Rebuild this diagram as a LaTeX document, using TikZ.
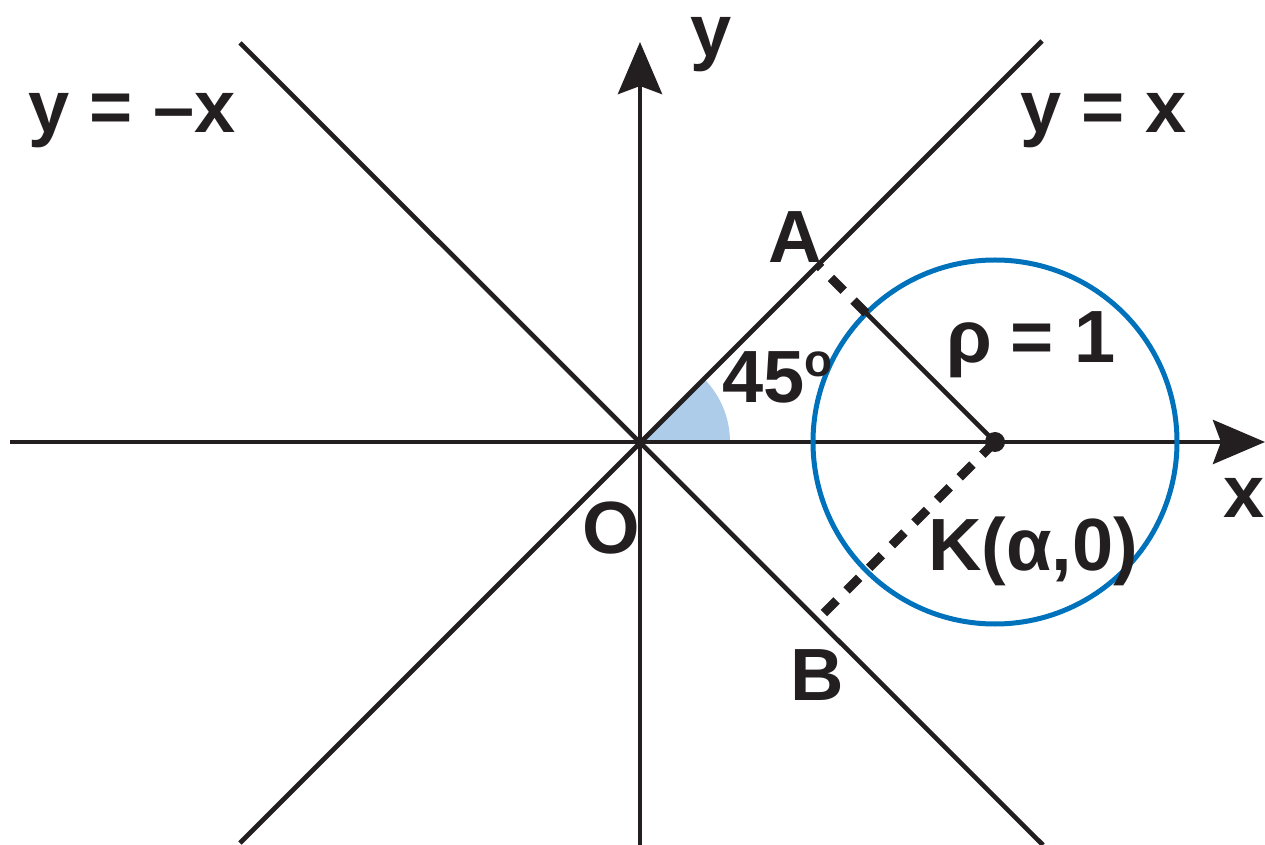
\documentclass[tikz,border=0pt]{standalone}
\usepackage{fontspec}
\setmainfont{Liberation Sans}
\usetikzlibrary{arrows.meta}
\definecolor{ink}{RGB}{35,31,32}
\definecolor{circblue}{RGB}{0,114,188}
\definecolor{wedgeblue}{RGB}{172,204,234}
\tikzset{
  axisline/.style={ink, line width=4.8pt, -{Stealth[length=52pt,width=44pt,inset=8pt]}},
  plainline/.style={ink, line width=4.6pt},
  dashline/.style={ink, line width=9pt, dash pattern=on 18pt off 14pt},
  lbl/.style={inner sep=0pt, anchor=base west, text=ink, font=\fontsize{74}{80}\selectfont\bfseries},
}
\begin{document}
\begin{tikzpicture}[x=1pt,y=1pt]
\useasboundingbox (-640,-403) rectangle (625,442);
\coordinate (O) at (0,0);
\coordinate (K) at (355,0);
\coordinate (A) at (177.5,177.5);
\coordinate (B) at (177.5,-177.5);
\coordinate (P) at (226.3,128.7);
\coordinate (xs) at (-630,0);
\coordinate (xe) at (625,0);
\coordinate (ys) at (0,-403);
\coordinate (ye) at (0,400);
\coordinate (d1s) at (-400,-401);
\coordinate (d1e) at (402,401);
\coordinate (d2s) at (-400,399);
\coordinate (d2e) at (403,-403);
% angle wedge
\fill[wedgeblue] (O) -- (90,0) arc[start angle=0,end angle=45,radius=90] -- cycle;
% lines
\draw[plainline] (d1s) -- (d1e);
\draw[plainline] (d2s) -- (d2e);
\draw[axisline] (xs) -- (xe);
\draw[axisline] (ys) -- (ye);
% circle
\draw[circblue, line width=5pt] (K) circle[radius=182];
% perpendiculars
\draw[plainline] (K) -- (P);
\draw[dashline] (P) -- (A);
\draw[dashline] (K) -- (B);
\fill[ink] (K) circle[radius=10];
% labels
\node[lbl] (lnx) at (-612,309) {y = –x};
\node[lbl] (lpx) at (380,309) {y = x};
\node[lbl] (ly) at (50,385) {y};
\node[lbl] (lx) at (583,-76) {x};
\node[lbl] (lA) at (128,179) {A};
\node[lbl] (lang) at (82,39) {45\raisebox{26pt}{\fontsize{46}{50}\selectfont o}};
\node[lbl] (lrho) at (306,79) {ρ\hspace{-2pt} = 1};
\node[lbl] (lK) at (288,-128) {K(α,0)};
\node[lbl] (lO) at (-58,-111) {O};
\node[lbl] (lB) at (150,-258) {B};
\end{tikzpicture}
\end{document}
